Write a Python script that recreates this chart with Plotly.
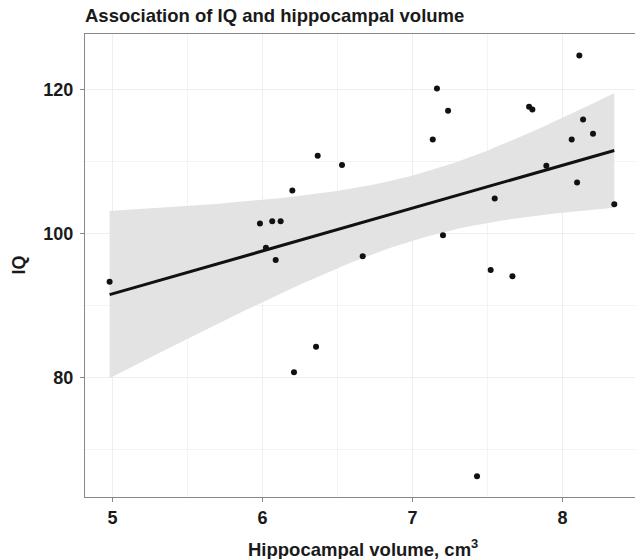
import numpy as np
import plotly.graph_objects as go

# Data
hippocampal_volume = [4.981, 5.983, 6.023, 6.065, 6.088, 6.121, 6.199, 6.210, 6.357, 6.368,
                      6.530, 6.668, 7.135, 7.163, 7.203, 7.237, 7.430, 7.521, 7.548, 7.666,
                      7.777, 7.799, 7.892, 8.061, 8.097, 8.112, 8.137, 8.203, 8.345]
iq = [93.28, 101.39, 98.00, 101.71, 96.30, 101.71, 105.97, 80.74, 84.25, 110.78,
      109.49, 96.85, 113.06, 120.14, 99.76, 117.03, 66.29, 94.94, 104.86, 94.07,
      117.58, 117.22, 109.39, 113.06, 107.08, 124.72, 115.83, 113.84, 104.07]
x_ticks = [5, 6, 7, 8]
y_ticks = [80, 100, 120]

x = np.array(hippocampal_volume)
y = np.array(iq)
n = len(x)
slope, intercept = np.polyfit(x, y, 1)
xs = np.linspace(x.min(), x.max(), 80)
fit = intercept + slope * xs
resid = y - (intercept + slope * x)
s = np.sqrt(np.sum(resid ** 2) / (n - 2))
sxx = np.sum((x - x.mean()) ** 2)
se = s * np.sqrt(1.0 / n + (xs - x.mean()) ** 2 / sxx)
t_crit = 2.0518  # 97.5% quantile, df = 27
lower = fit - t_crit * se
upper = fit + t_crit * se

FONT = "Liberation Sans, Arial, Helvetica, sans-serif"
fig = go.Figure()
fig.add_trace(go.Scatter(x=np.concatenate([xs, xs[::-1]]), y=np.concatenate([upper, lower[::-1]]),
                         fill="toself", fillcolor="#e3e3e3", line=dict(width=0),
                         mode="lines", hoverinfo="skip", showlegend=False))
fig.add_trace(go.Scatter(x=x, y=y, mode="markers",
                         marker=dict(size=6, color="#111111"), showlegend=False))
fig.add_trace(go.Scatter(x=xs, y=fit, mode="lines",
                         line=dict(color="#111111", width=3), showlegend=False))

fig.update_layout(
    width=635, height=559,
    margin=dict(l=85, r=0, t=34, b=62),
    paper_bgcolor="white", plot_bgcolor="white",
    font=dict(family=FONT, color="#1a1a1a"),
    title=dict(text="<b>Association of IQ and hippocampal volume</b>",
               x=0, xref="paper", xanchor="left",
               y=1 - 16 / 559, yref="container", yanchor="middle",
               font=dict(size=18.5, family=FONT, color="#1a1a1a")),
    annotations=[
        dict(text="<b>Hippocampal volume, cm<sup>3</sup></b>", xref="paper", yref="paper",
             x=(362.5 - 85) / 550, y=0, yshift=-51, xanchor="center", yanchor="middle",
             showarrow=False, font=dict(size=18.5, family=FONT, color="#1a1a1a")),
        dict(text="<b>IQ</b>", xref="paper", yref="paper", x=0, y=0.5, xshift=-67,
             xanchor="center", yanchor="middle", textangle=-90,
             showarrow=False, font=dict(size=18, family=FONT, color="#1a1a1a")),
    ],
)
fig.update_xaxes(range=[4.817, 8.483], tickvals=x_ticks, ticktext=[f"<b>{v}</b>" for v in x_ticks],
                 showgrid=True, gridcolor="#eeeeee", gridwidth=1,
                 minor=dict(tickvals=[5.5, 6.5, 7.5], showgrid=True, gridcolor="#f3f3f3", gridwidth=1),
                 showline=True, linecolor="#888888", linewidth=1, mirror=True,
                 ticks="outside", ticklen=4, tickcolor="#888888",
                 tickfont=dict(size=18, family=FONT, color="#1a1a1a"), zeroline=False)
fig.update_yaxes(range=[63.4, 127.7], tickvals=y_ticks, ticktext=[f"<b>{v}</b>" for v in y_ticks],
                 showgrid=True, gridcolor="#eeeeee", gridwidth=1,
                 minor=dict(tickvals=[70, 90, 110], showgrid=True, gridcolor="#f3f3f3", gridwidth=1),
                 showline=True, linecolor="#888888", linewidth=1,
                 ticks="outside", ticklen=4, tickcolor="#888888", ticklabelstandoff=3,
                 tickfont=dict(size=18, family=FONT, color="#1a1a1a"), zeroline=False)

fig.write_html("out.html", config={"displayModeBar": False},
               post_script="document.body.style.margin='0';")
